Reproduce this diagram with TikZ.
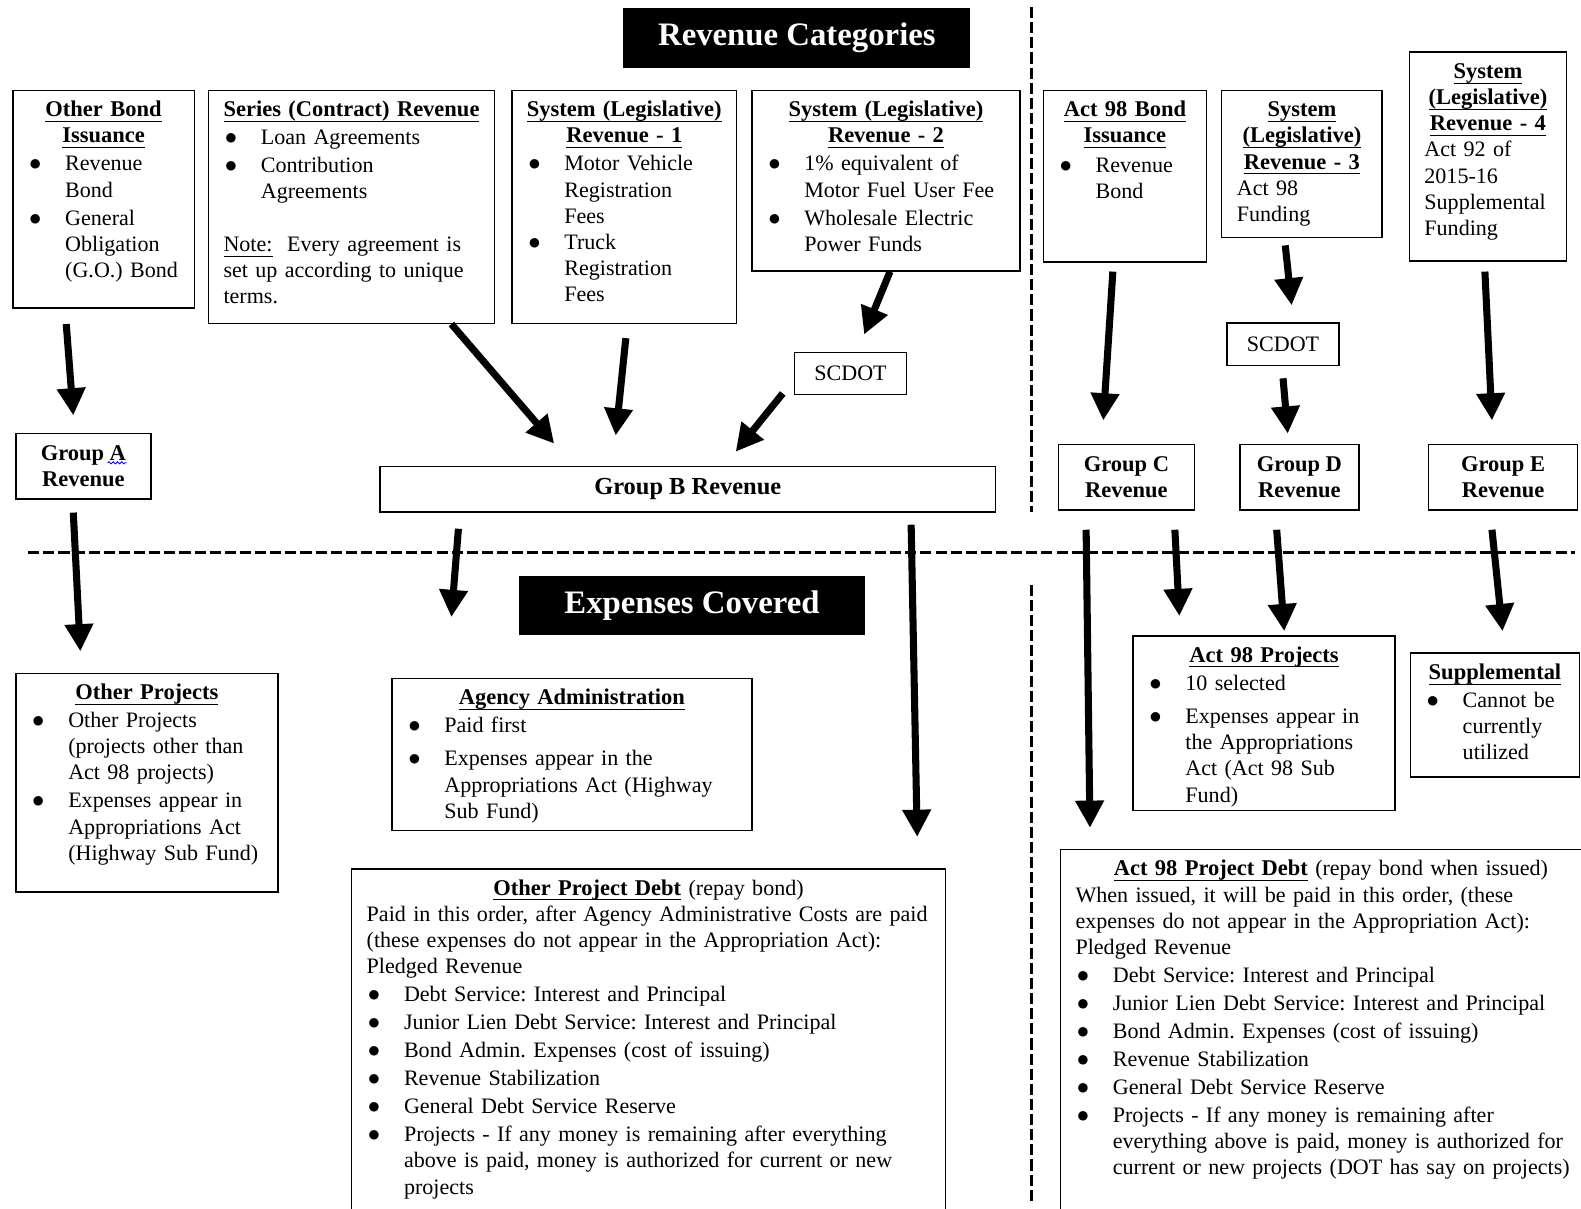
\documentclass[tikz,border=0pt]{standalone}
\usepackage{fontspec}
\setmainfont{Liberation Serif}
\newfontfamily\dotfont{DejaVu Sans}
\usetikzlibrary{arrows.meta, calc, decorations.pathmorphing}
\newcommand{\bodyfont}{\fontsize{12.45}{14.8}\selectfont\frenchspacing}
\newcommand{\ul}[1]{\underline{\smash{\fontsize{12.7}{14.8}\selectfont\textbf{#1}}\rule[-1.2pt]{0pt}{1pt}}}
\newcommand{\ulr}[1]{\underline{\smash{#1}\rule[-1.2pt]{0pt}{1pt}}}
\newcommand{\hd}[1]{{\leftskip=-1cm plus 1fil\rightskip=-1cm plus 1fil\parfillskip=0pt\let\\\par #1\par}}
\newcommand{\itm}[2][1pt]{\par\vspace{#1}{\let\\\newline\hangindent=0.74cm\hangafter=1\noindent\makebox[0.74cm][l]{\hspace{0.04cm}\raisebox{1.7pt}{\dotfont\fontsize{7}{8}\selectfont ●}}#2\par}}
\tikzstyle{bx} = [draw, line width=0.8pt, anchor=north west, inner xsep=0.3cm, inner ysep=0pt, text height=0.52cm, font=\bodyfont, execute at begin node={\rightskip=-2cm\relax}]
\tikzstyle{grp} = [draw, line width=0.8pt, anchor=north west, inner sep=0pt, align=center, font=\fontsize{12.7}{14.8}\selectfont\bfseries]
\tikzstyle{agent} = [draw, line width=0.8pt, inner sep=0pt, minimum width=2.22cm, minimum height=0.84cm, font=\bodyfont]
\tikzstyle{ttl} = [fill=black, text=white, anchor=north west, inner sep=0pt, font=\fontsize{18.5}{22}\selectfont\bfseries]
\tikzstyle{fat} = [line width=0.14cm, -{Triangle[length=0.54cm, width=0.54cm]}]
\tikzstyle{divider} = [line width=1.7pt, dash pattern=on 0.22cm off 0.08cm]

\begin{document}
\begin{tikzpicture}[x=0.02cm, y=-0.02cm]
                %\draw[help lines] (0, 0) grid (1568, 1199);
                \useasboundingbox (0, 0) rectangle (1568, 1199);

                \node[ttl, minimum width=6.88cm, minimum height=1.18cm] (revcat) at (618, 8) {Revenue Categories};
                \node[ttl, minimum width=6.88cm, minimum height=1.16cm] (expcov) at (514, 571) {Expenses Covered};

                % revenue sources
                \node[bx, text width=3.0cm, text depth=3.80cm] (obond) at (12, 89) {%
                    \hd{\ul{Other Bond}\\\ul{Issuance}}
                    \itm{Revenue\\Bond}
                    \itm{General\\Obligation\\(G.O.) Bond}};
                \node[bx, text width=5.08cm, text depth=4.10cm] (series) at (206, 89) {%
                    \hd{\ul{Series (Contract) Revenue}}
                    \itm{Loan Agreements}
                    \itm{Contribution\\Agreements}
                    \par\vspace{14.8pt}\noindent\ulr{Note:}\ \ Every agreement is\\set up according to unique\\terms.};
                \node[bx, text width=3.86cm, text depth=4.10cm] (sys1) at (507, 89) {%
                    \hd{\ul{System (Legislative)}\\\ul{Revenue - 1}}
                    \itm{Motor Vehicle\\Registration\\Fees}
                    \itm[0pt]{Truck\\Registration\\Fees}};
                \node[bx, text width=4.72cm, text depth=3.06cm] (sys2) at (745, 89) {%
                    \hd{\ul{System (Legislative)}\\\ul{Revenue - 2}}
                    \itm{1\% equivalent of\\Motor Fuel User Fee}
                    \itm{Wholesale Electric\\Power Funds}};
                \node[bx, text width=2.64cm, text depth=2.88cm] (a98bond) at (1034, 89) {%
                    \hd{\ul{Act 98 Bond}\\\ul{Issuance}}
                    \itm[2pt]{Revenue\\Bond}};
                \node[bx, text width=2.58cm, text depth=2.40cm] (sys3) at (1211, 89) {%
                    \hd{\ul{System}\\\ul{(Legislative)}\\\ul{Revenue - 3}}
                    Act 98\\Funding};
                \node[bx, text width=2.52cm, text depth=3.62cm] (sys4) at (1397, 51) {%
                    \hd{\ul{System}\\\ul{(Legislative)}\\\ul{Revenue - 4}}
                    Act 92 of\\2015-16\\Supplemental\\Funding};

                \node[agent] (scdotL) at (843.5, 370.5) {SCDOT};
                \node[agent] (scdotR) at (1272.5, 341.5) {SCDOT};

                % revenue groups
                \node[grp, minimum width=2.68cm, minimum height=1.30cm] (grpA) at (15, 429) {Group A\\Revenue};
                \node[grp, minimum width=12.22cm, minimum height=0.90cm, font=\fontsize{13.8}{15}\selectfont\bfseries] (grpB) at (376, 462) {Group B Revenue};
                \node[grp, minimum width=2.70cm, minimum height=1.30cm] (grpC) at (1049, 440) {Group C\\Revenue};
                \node[grp, minimum width=2.36cm, minimum height=1.30cm] (grpD) at (1229, 440) {Group D\\Revenue};
                \node[grp, minimum width=2.96cm, minimum height=1.30cm] (grpE) at (1416, 440) {Group E\\Revenue};
                \draw[blue, line width=0.5pt, decorate, decoration={snake, amplitude=0.6pt, segment length=2.4pt}]
                    ($(grpA.north)+(24, 30)$) -- ($(grpA.north)+(43, 30)$);

                % expenses
                \node[bx, text width=4.6cm, text depth=3.82cm] (othproj) at (15, 667) {%
                    \hd{\ul{Other Projects}}
                    \itm{Other Projects\\(projects other than\\Act 98 projects)}
                    \itm{Expenses appear in\\Appropriations Act\\(Highway Sub Fund)}};
                \node[bx, text width=6.54cm, text depth=2.50cm] (agency) at (388, 672) {%
                    \hd{\ul{Agency Administration}}
                    \itm{Paid first}
                    \itm[4pt]{Expenses appear in the\\Appropriations Act (Highway\\Sub Fund)}};
                \node[bx, text width=11.18cm, text depth=6.68cm] (othdebt) at (348, 861) {%
                    \hd{\ul{Other Project Debt} (repay bond)}
                    Paid in this order, after Agency Administrative Costs are paid\\(these expenses do not appear in the Appropriation Act):\\Pledged Revenue
                    \itm{Debt Service: Interest and Principal}
                    \itm{Junior Lien Debt Service: Interest and Principal}
                    \itm{Bond Admin. Expenses (cost of issuing)}
                    \itm{Revenue Stabilization}
                    \itm{General Debt Service Reserve}
                    \itm{Projects - If any money is remaining after everything\\above is paid, money is authorized for current or new\\projects}};
                \node[bx, text width=4.6cm, text depth=2.94cm] (a98proj) at (1123, 630) {%
                    \hd{\ul{Act 98 Projects}}
                    \itm{10 selected}
                    \itm[4pt]{Expenses appear in\\the Appropriations\\Act (Act 98 Sub\\Fund)}};
                \node[bx, text width=2.76cm, text depth=1.94cm] (suppl) at (1398, 647) {%
                    \hd{\ul{Supplemental}}
                    \itm{Cannot be\\currently\\utilized}};
                \node[bx, text width=10.2cm, text depth=7.08cm] (a98debt) at (1051, 842) {%
                    \hspace*{0.76cm}\ul{Act 98 Project Debt} (repay bond when issued)\\When issued, it will be paid in this order, (these\\expenses do not appear in the Appropriation Act):\\Pledged Revenue
                    \itm{Debt Service: Interest and Principal}
                    \itm{Junior Lien Debt Service: Interest and Principal}
                    \itm{Bond Admin. Expenses (cost of issuing)}
                    \itm{Revenue Stabilization}
                    \itm{General Debt Service Reserve}
                    \itm{Projects - If any money is remaining after\\everything above is paid, money is authorized for\\current or new projects (DOT has say on projects)}};

                % dividers
                \draw[divider] (1023, 7) -- (1023, 508);
                \draw[divider] (1023, 580) -- (1023, 1192);
                \draw[divider] (28, 548) -- (1562, 548);

                % flows
                \draw[fat] ($(obond.south)+(-37, 15)$) -- ($(grpA.north)+(-10, -17)$);
                \draw[fat] ($(series.south)+(99, 0)$) -- ($(grpB.north)+(-132.5, -22)$);
                \draw[fat] ($(sys1.south)+(1.5, 14)$) -- ($(grpB.north)+(-71.5, -30)$);
                \draw[fat] ($(sys2.south)+(4, 0)$) -- ($(scdotL.north)+(13.5, -17)$);
                \draw[fat] ($(scdotL.south west)+(-11, -2)$) -- ($(grpB.north)+(47.5, -14)$);
                \draw[fat] ($(a98bond.south)+(-12, 9)$) -- ($(grpC.north)+(-23, -23)$);
                \draw[fat] ($(sys3.south)+(-16.5, 7)$) -- ($(scdotR.north)+(8.5, -17)$);
                \draw[fat] ($(scdotR.south)+(0, 12)$) -- ($(grpD.north)+(-11.5, -10)$);
                \draw[fat] ($(sys4.south)+(-3, 10)$) -- ($(grpE.north)+(-11, -23)$);
                \draw[fat] ($(grpA.south)+(-10, 13)$) -- ($(othproj.north)+(-66, -21)$);
                \draw[fat] ($(grpB.south)+(-227.5, 16)$) -- ($(agency.north)+(-119.5, -60)$);
                \draw[fat] ($(grpB.south)+(221.5, 12)$) -- ($(othdebt.north)+(266.5, -31)$);
                \draw[fat] ($(grpC.south)+(-40, 19)$) -- ($(a98debt.north west)+(30, -21)$);
                \draw[fat] ($(grpC.south)+(48, 19)$) -- ($(a98proj.north)+(-84, -19)$);
                \draw[fat] ($(grpD.south)+(-22.5, 19)$) -- ($(a98proj.north)+(20, -4)$);
                \draw[fat] ($(grpE.south)+(-11, 19)$) -- ($(suppl.north)+(7.5, -21)$);
            \end{tikzpicture}
\end{document}
